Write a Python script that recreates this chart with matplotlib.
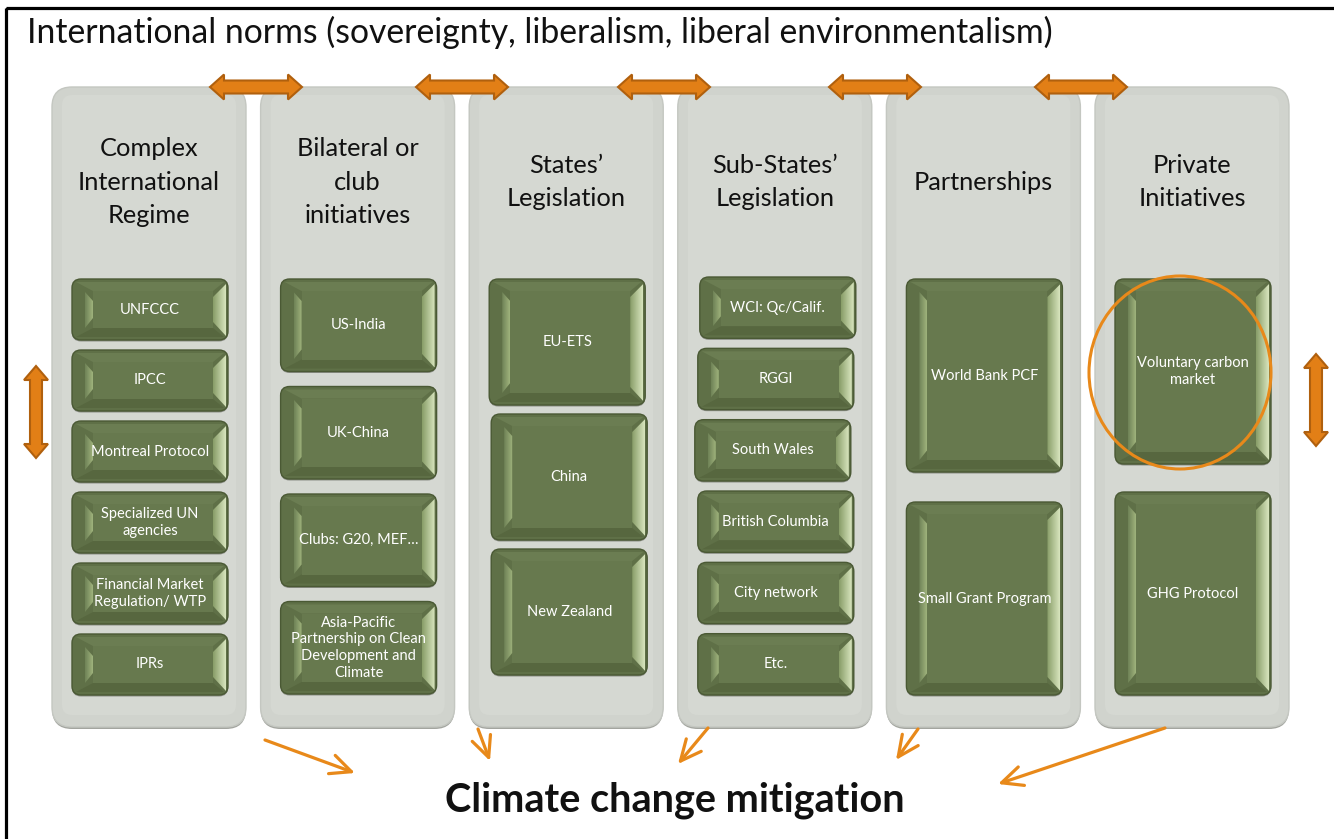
import matplotlib.pyplot as plt
from matplotlib.patches import FancyBboxPatch, Polygon, Ellipse, Rectangle
from matplotlib.colors import to_rgb
import numpy as np

plt.rcParams['font.family'] = ['Lato', 'DejaVu Sans']

# --- content ---
title_text = "International norms (sovereignty, liberalism, liberal environmentalism)"
footer_text = "Climate change mitigation"
headers = ["Complex\nInternational\nRegime", "Bilateral or\nclub\ninitiatives",
           "States’\nLegislation", "Sub-States’\nLegislation",
           "Partnerships", "Private\nInitiatives"]
items = [
    ["UNFCCC", "IPCC", "Montreal Protocol", "Specialized UN\nagencies",
     "Financial Market\nRegulation/ WTP", "IPRs"],
    ["US-India", "UK-China", "Clubs: G20, MEF…",
     "Asia-Pacific\nPartnership on Clean\nDevelopment and\nClimate"],
    ["EU-ETS", "China", "New Zealand"],
    ["WCI: Qc/Calif.", "RGGI", "South Wales", "British Columbia", "City network", "Etc."],
    ["World Bank PCF", "Small Grant Program"],
    ["Voluntary carbon\nmarket", "GHG Protocol"],
]
highlighted = (5, 0)   # circled item (column, row)

# --- layout (pixel space, y downwards) ---
W, H = 1334, 839
col_x0, col_pitch, col_w = 52, 208.6, 194
col_top, col_bot = 87, 727
box_inset, box_w = 20, 156
# per column: top, bottom, gap between boxes, relative heights
box_layout = [
    (279, 695, 10, None),
    (279, 694, 15, None),
    (279, 675, 9, None),
    (277, 695, 10, None),
    (279, 695, 30, None),
    (279, 695, 28, [185, 203]),
]
box_shift = [None, None, [0, 2, 2], [2, 0, -3, 0, 0, 0], None, None]
link_x = [256, 462, 664, 875, 1081]
side_arrows = [(36, 412), (1316, 400)]
flow_arrows = [((265, 740), (355, 773)), ((478, 729), (490, 761)),
               ((708, 728), (678, 764)), ((918, 729), (896, 760)),
               ((1165, 728), (998, 784))]

ORANGE = '#e27f16'
ORANGE_DK = '#b0600e'


def grad_poly(ax, pts, c0, c1, z):
    poly = Polygon(pts, closed=True, fc='none', ec='none', zorder=z)
    ax.add_patch(poly)
    pts = np.asarray(pts)
    t = np.linspace(0, 1, 64)[None, :, None]
    img = (1 - t) * np.array(to_rgb(c0)) + t * np.array(to_rgb(c1))
    im = ax.imshow(img, extent=(pts[:, 0].min(), pts[:, 0].max(),
                                pts[:, 1].max(), pts[:, 1].min()),
                   aspect='auto', zorder=z, interpolation='bilinear')
    im.set_clip_path(poly)


def green_box(ax, x0, y0, w, h, text):
    x1, y1 = x0 + w, y0 + h
    ax.add_patch(FancyBboxPatch((x0, y0 + 1.5), w, h, boxstyle="round,pad=0,rounding_size=9",
                                fc='#8c8f88', ec='none', zorder=3))
    ax.add_patch(FancyBboxPatch((x0, y0), w, h, boxstyle="round,pad=0,rounding_size=9",
                                fc='#5f7047', ec='#4a5934', lw=1, zorder=4))
    ix0, ix1, iy0, iy1 = x0 + 21, x1 - 15, y0 + 12, y1 - 12
    ax.add_patch(Polygon([(x0 + 4, y0 + 3), (x1 - 4, y0 + 3), (ix1, iy0), (ix0, iy0)],
                         fc='#6b7d52', ec='none', zorder=5))
    ax.add_patch(Polygon([(x0 + 4, y1 - 3), (x1 - 4, y1 - 3), (ix1, iy1), (ix0, iy1)],
                         fc='#57673f', ec='none', zorder=5))
    ax.add_patch(Polygon([(ix0, iy0), (ix1, iy0), (ix1, iy1), (ix0, iy1)],
                         fc='#67794e', ec='none', zorder=5))
    # left facet
    grad_poly(ax, [(x0 + 13, y0 + 13), (ix0, iy0 + 10), (ix0, iy1 - 10), (x0 + 13, y1 - 12)],
              '#6f8256', '#9fb37d', 6)
    # right facet
    grad_poly(ax, [(ix1, iy0 + 6), (x1 - 2, y0 + 5), (x1 - 2, y1 - 4), (ix1, iy1 - 6)],
              '#889d68', '#d8e5be', 6)
    ax.text((x0 + x1) / 2, (y0 + y1) / 2, text, ha='center', va='center',
            color='white', fontsize=10.5, linespacing=1.25, zorder=8)


def double_arrow(ax, cx, cy, length, width, shaft, head, vertical=False):
    L, Wd, s = length / 2, width / 2, shaft / 2
    pts = [(-L, 0), (-L + head, -Wd), (-L + head, -s), (L - head, -s), (L - head, -Wd),
           (L, 0), (L - head, Wd), (L - head, s), (-L + head, s), (-L + head, Wd)]
    if vertical:
        pts = [(cx + b, cy + a) for a, b in pts]
    else:
        pts = [(cx + a, cy + b) for a, b in pts]
    ax.add_patch(Polygon(pts, closed=True, fc=ORANGE, ec=ORANGE_DK, lw=1.5,
                         joinstyle='miter', zorder=9))


fig = plt.figure(figsize=(W / 100, H / 100), dpi=100)
ax = fig.add_axes([0, 0, 1, 1])
ax.axis('off')

# outer frame (right/bottom edges run off the page)
ax.add_patch(Rectangle((6, 8), 1400, 900, fc='none', ec='black', lw=2.3, zorder=1))

ax.text(27, 32, title_text, ha='left', va='center', fontsize=24.3, color='#111111')

for ci, (head, col_items) in enumerate(zip(headers, items)):
    cx0 = col_x0 + ci * col_pitch
    ax.add_patch(FancyBboxPatch((cx0, col_top + 2), col_w, col_bot - col_top,
                                boxstyle="round,pad=0,rounding_size=20",
                                fc='#a3a59f', ec='none', zorder=1))
    ax.add_patch(FancyBboxPatch((cx0, col_top), col_w, col_bot - col_top,
                                boxstyle="round,pad=0,rounding_size=20",
                                fc='#d0d3cd', ec='#c4c7c1', lw=1, zorder=2))
    ax.add_patch(FancyBboxPatch((cx0 + 10, col_top + 8), col_w - 20, col_bot - col_top - 20,
                                boxstyle="round,pad=0,rounding_size=10",
                                fc='#d5d8d2', ec='none', zorder=2))
    ax.text(cx0 + col_w / 2, 182, head, ha='center', va='center',
            fontsize=18.3, linespacing=1.57, color='#111111', zorder=3)

    top, bot, gap, weights = box_layout[ci]
    n = len(col_items)
    weights = weights or [1] * n
    avail = bot - top - gap * (n - 1)
    heights = [avail * wt / sum(weights) for wt in weights]
    shifts = box_shift[ci] or [0] * n
    y = top
    for bi, label in enumerate(col_items):
        green_box(ax, cx0 + box_inset + shifts[bi], y, box_w, heights[bi], label)
        if (ci, bi) == highlighted:
            ax.add_patch(Ellipse((cx0 + box_inset + box_w / 2 - 13, y + heights[bi] / 2 + 1),
                                 182, 193, fc='none', ec='#e8891a', lw=2.2, zorder=10))
        y += heights[bi] + gap

for x in link_x:
    double_arrow(ax, x, 87, 92, 25, 13, 14)
for x, y in side_arrows:
    double_arrow(ax, x, y, 92, 24, 12, 14, vertical=True)

for start, end in flow_arrows:
    ax.annotate('', xy=end, xytext=start,
                arrowprops=dict(arrowstyle='->,head_length=0.75,head_width=0.35',
                                color='#e8891a', lw=2.3, mutation_scale=20,
                                shrinkA=0, shrinkB=0), zorder=9)

ax.text(675, 800, footer_text, ha='center', va='center', fontsize=28.5,
        fontweight='bold', color='#111111')

ax.set_xlim(0, W)
ax.set_ylim(H, 0)
fig.savefig('out.png', dpi=100)
